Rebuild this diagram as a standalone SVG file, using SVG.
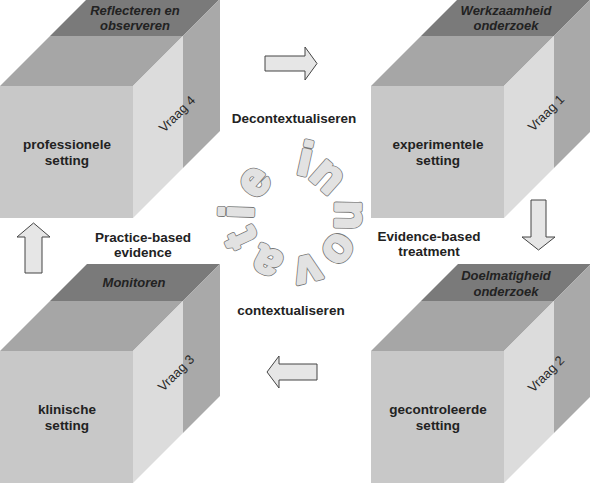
<svg xmlns="http://www.w3.org/2000/svg" width="590" height="483" viewBox="0 0 590 483">
<style>
  .front{fill:#c8c8c8}
  .top{fill:#a6a6a6}
  .band{fill:#7a7a7a}
  .sidel{fill:#dcdcdc}
  .sided{fill:#a9a9a9}
  text{font-family:"Liberation Sans",Arial,sans-serif}
  .title{font-size:13px;font-weight:bold;font-style:italic;fill:#222;text-anchor:middle}
  .face{font-size:13.5px;font-weight:bold;fill:#222;text-anchor:middle}
  .vraag{font-size:13px;fill:#2a2a2a;text-anchor:middle}
  .lbl{font-size:13.5px;font-weight:bold;fill:#222;text-anchor:middle}
  .arrow{fill:#e6e6e6;stroke:#444;stroke-width:1;stroke-linejoin:miter}
  .inno{font-size:47px;font-weight:bold;text-anchor:middle}
  .innoA{fill:#777;stroke:#777;stroke-width:4.4;stroke-linejoin:round}
  .innoB{fill:#e2e2e2;stroke:#e2e2e2;stroke-width:2.8;stroke-linejoin:round}
</style>
<defs>
  <g id="cubeShape">
    <rect class="front" x="0" y="87" width="133" height="132"/>
    <polygon class="top" points="0,87 133,87 183,37 50,37"/>
    <polygon class="band" points="50,37 183,37 220,0 87,0"/>
    <polygon class="sidel" points="133,87 183,37 183,169 133,219"/>
    <polygon class="sided" points="183,37 220,0 220,132 183,169"/>
  </g>
  <g id="letters">
    <text transform="translate(305,160) rotate(12.5)" y="15">i</text>
    <text transform="translate(326,178) rotate(41.6)" y="11.5">n</text>
    <text transform="translate(347,215) rotate(91)" y="11.5">n</text>
    <text transform="translate(337,248) rotate(127.7)" y="11.5">o</text>
    <text transform="translate(307,268) rotate(165.5)" y="11.5">v</text>
    <text transform="translate(268,260) rotate(208.5)" y="11.5">a</text>
    <text transform="translate(242,238) rotate(244.8)" y="14">t</text>
    <text transform="translate(238,212) rotate(272)" y="15">i</text>
    <text transform="translate(256,183) rotate(310.7)" y="11.5">e</text>
  </g>
</defs>

<g id="cube-reflecteren" transform="translate(0,-1)">
  <use href="#cubeShape"/>
  <text class="title" x="135" y="16">Reflecteren en</text>
  <text class="title" x="135" y="31">observeren</text>
  <text class="face" x="67" y="150">professionele</text>
  <text class="face" x="67" y="166">setting</text>
  <text class="vraag" transform="translate(177,115) rotate(-45)" y="4.5">Vraag 4</text>
</g>

<g id="cube-werkzaamheid" transform="translate(371,-1)">
  <use href="#cubeShape"/>
  <text class="title" x="135" y="16">Werkzaamheid</text>
  <text class="title" x="135" y="31">onderzoek</text>
  <text class="face" x="67" y="150">experimentele</text>
  <text class="face" x="67" y="166">setting</text>
  <text class="vraag" transform="translate(175,114) rotate(-45)" y="4.5">Vraag 1</text>
</g>

<g id="cube-monitoren" transform="translate(0,264)">
  <use href="#cubeShape"/>
  <text class="title" x="134" y="23">Monitoren</text>
  <text class="face" x="67" y="150">klinische</text>
  <text class="face" x="67" y="166">setting</text>
  <text class="vraag" transform="translate(176,109) rotate(-45)" y="4.5">Vraag 3</text>
</g>

<g id="cube-doelmatigheid" transform="translate(371,264)">
  <use href="#cubeShape"/>
  <text class="title" x="135" y="16">Doelmatigheid</text>
  <text class="title" x="135" y="32">onderzoek</text>
  <text class="face" x="67" y="150">gecontroleerde</text>
  <text class="face" x="67" y="166">setting</text>
  <text class="vraag" transform="translate(175,110) rotate(-45)" y="4.5">Vraag 2</text>
</g>

<g id="connectors">
  <polygon class="arrow" points="265,56 305,56 305,47 317,63.5 305,80 305,71 265,71"/>
  <polygon class="arrow" points="531,200 546,200 546,237 555,237 538.5,250 522,237 531,237"/>
  <polygon class="arrow" points="317,364 279,364 279,356 267,372 279,388 279,380 317,380"/>
  <polygon class="arrow" points="25,273 25,237 17,237 33.5,223 50,237 42,237 42,273"/>
</g>

<g id="labels">
  <text class="lbl" x="294" y="123">Decontextualiseren</text>
  <text class="lbl" x="143" y="242">Practice-based</text>
  <text class="lbl" x="143" y="257">evidence</text>
  <text class="lbl" x="429" y="241">Evidence-based</text>
  <text class="lbl" x="429" y="256">treatment</text>
  <text class="lbl" x="291" y="315">contextualiseren</text>
</g>

<g id="innovatie" class="inno">
  <use href="#letters" class="innoA"/>
  <use href="#letters" class="innoB"/>
</g>
</svg>
